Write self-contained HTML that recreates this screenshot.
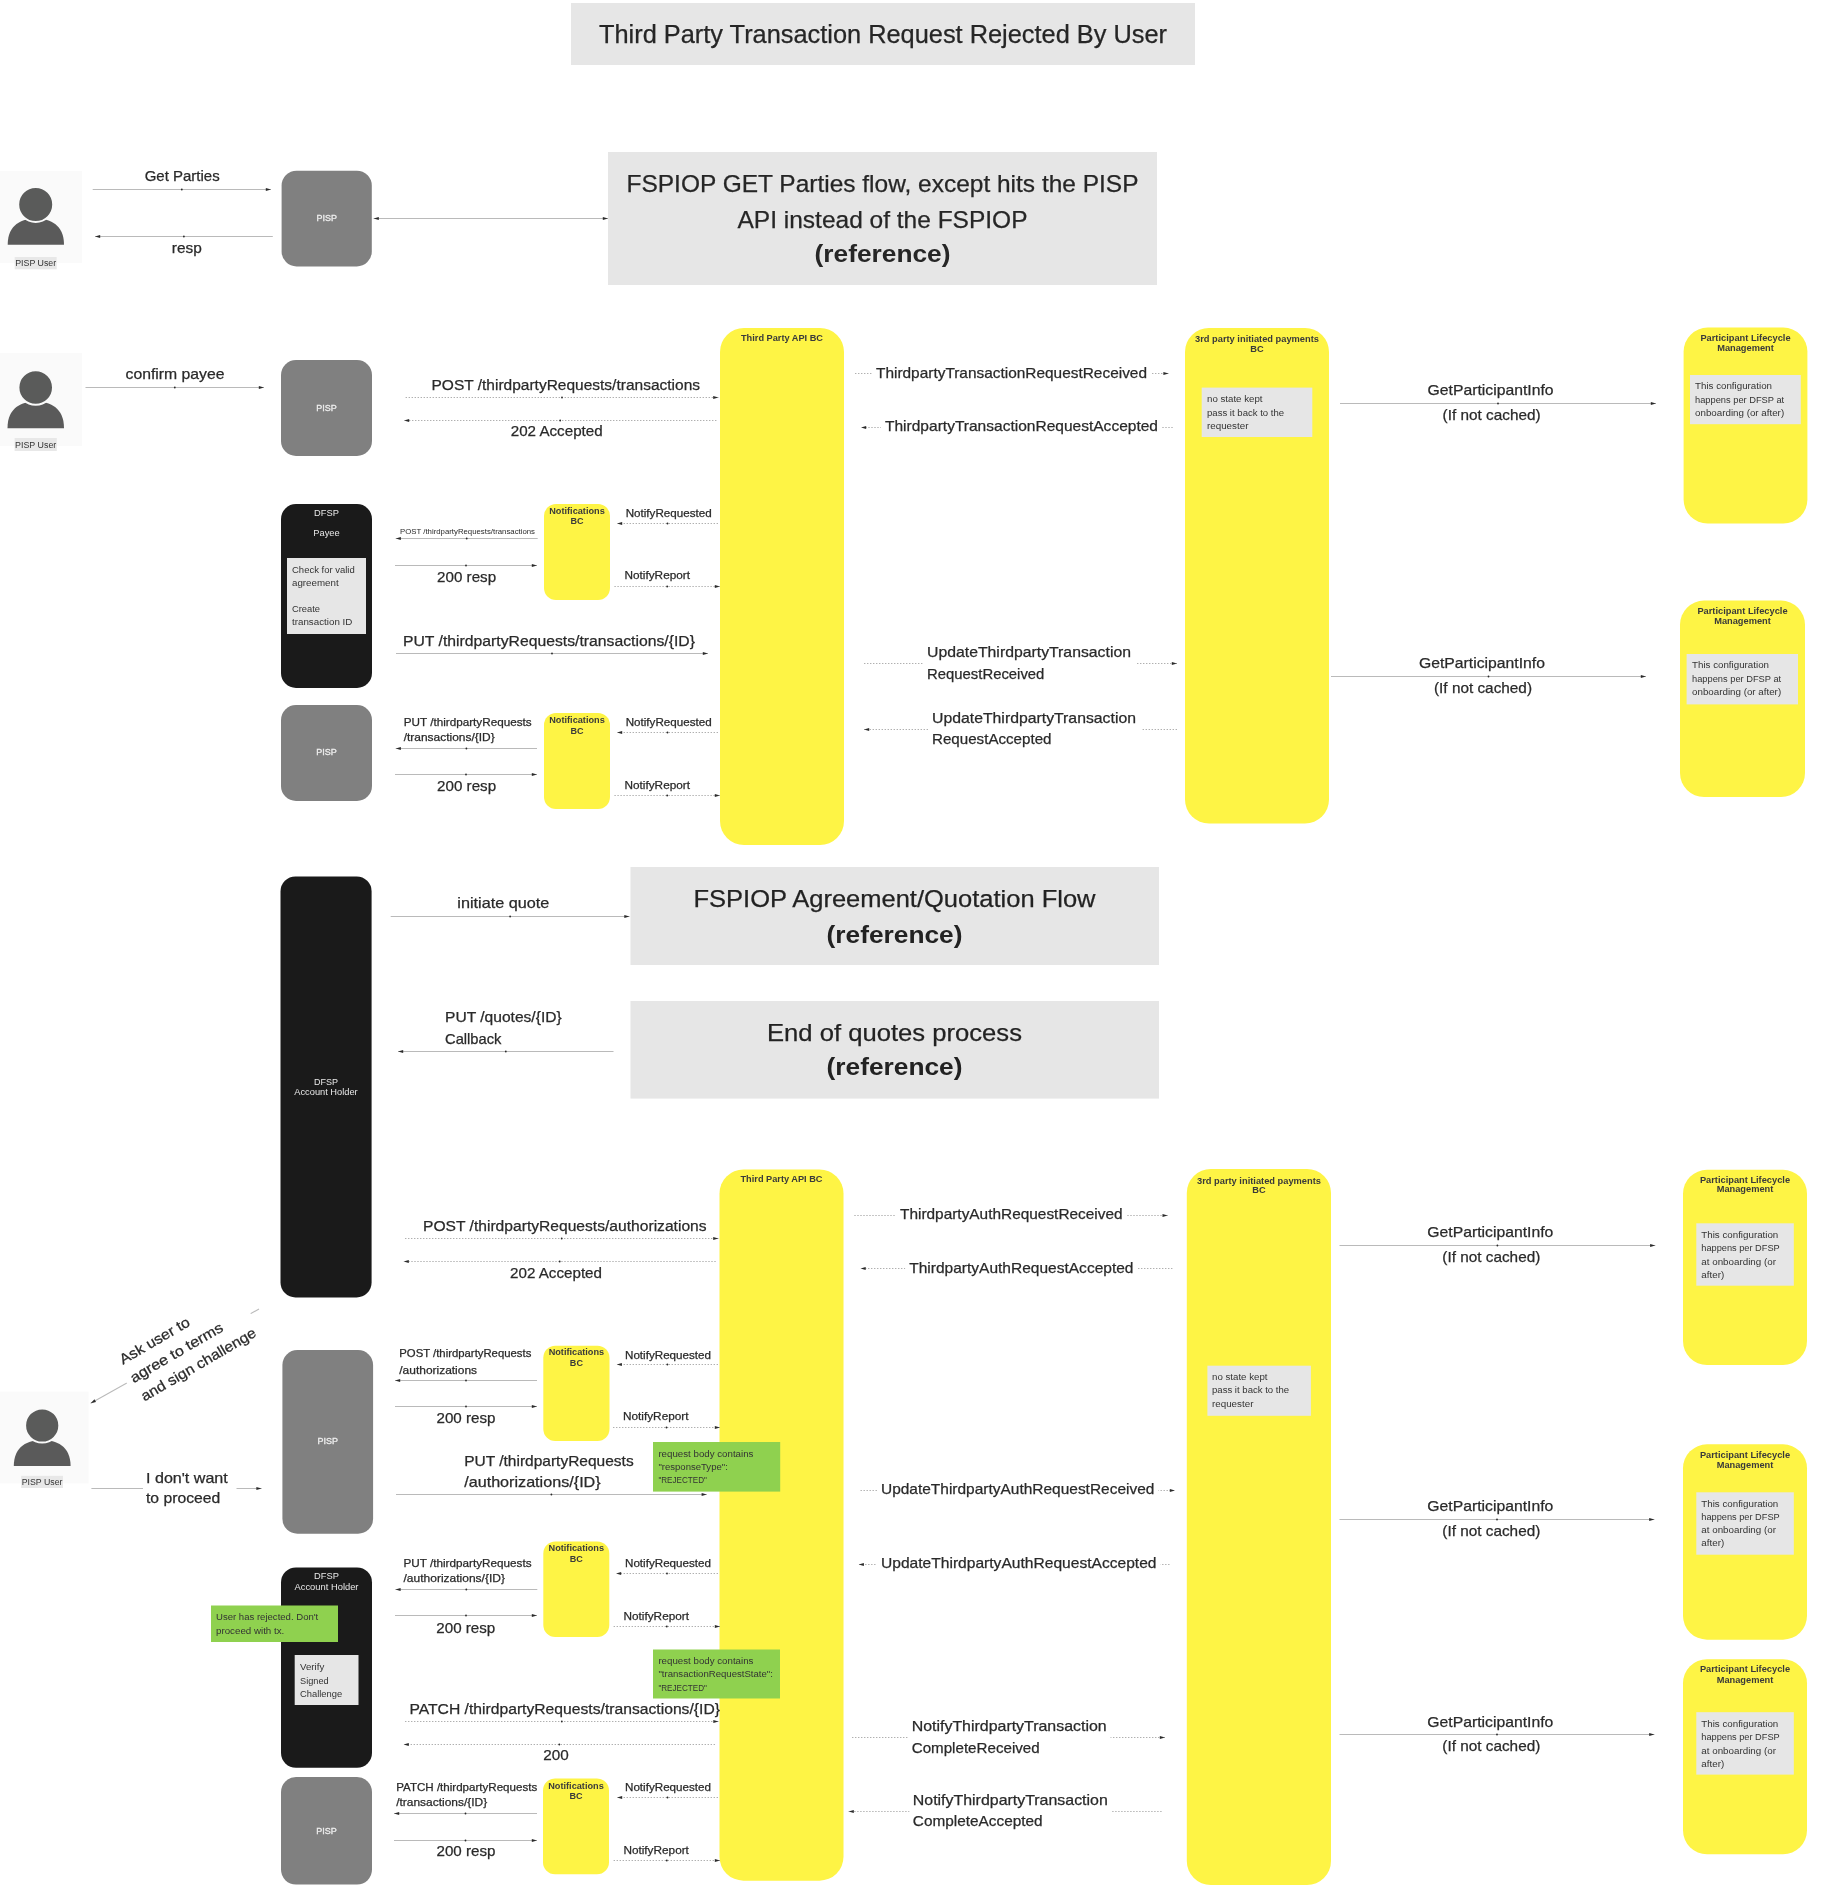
<!DOCTYPE html>
<html><head><meta charset="utf-8"><title>Third Party Transaction Request Rejected By User</title>
<style>
html,body{margin:0;padding:0;background:#ffffff;}
body{width:1830px;height:1890px;overflow:hidden;}
svg{display:block;font-family:"Liberation Sans",sans-serif;will-change:transform;}
</style></head><body>
<svg width="1830" height="1890" viewBox="0 0 1830 1890">
<rect x="0" y="0" width="1830" height="1890" fill="#ffffff"/>
<rect x="571" y="3" width="624" height="62" rx="0" fill="#e6e6e6"/>
<text x="883" y="43.29" font-size="25.0" text-anchor="middle" fill="#262626" stroke="#262626" stroke-width="0.25" textLength="568" lengthAdjust="spacingAndGlyphs">Third Party Transaction Request Rejected By User</text>
<rect x="0" y="171" width="82" height="92" rx="0" fill="#fafafa"/>
<path d="M7.7,244.8 C7.7,224.5 21.85,218.5 35.85,218.5 C49.85,218.5 64,224.5 64,244.8 Z" fill="#5a5a5a"/>
<circle cx="35.7" cy="204.5" r="17.5" fill="#5a5b5a" stroke="#fafafa" stroke-width="2"/>
<rect x="14.7" y="257" width="42.0" height="12.3" rx="0" fill="#e8e8e8"/>
<text x="35.7" y="266.18" font-size="8.5" text-anchor="middle" fill="#333333" textLength="41.0" lengthAdjust="spacingAndGlyphs">PISP User</text>
<text x="182.2" y="180.85" font-size="14.8" text-anchor="middle" fill="#2a2a2a" stroke="#2a2a2a" stroke-width="0.25" textLength="75" lengthAdjust="spacingAndGlyphs">Get Parties</text>
<line x1="92.7" y1="189.5" x2="271" y2="189.5" stroke="#bababa" stroke-width="1.1"/>
<polygon points="271.00,189.50 265.80,191.05 265.80,187.95" fill="#2b2b2b"/>
<circle cx="181.8" cy="189.5" r="0.9" fill="#2b2b2b"/>
<line x1="272.8" y1="236.5" x2="95" y2="236.5" stroke="#bababa" stroke-width="1.1"/>
<polygon points="95.00,236.50 100.20,234.95 100.20,238.05" fill="#2b2b2b"/>
<circle cx="183.9" cy="236.5" r="0.9" fill="#2b2b2b"/>
<text x="186.8" y="252.85" font-size="14.8" text-anchor="middle" fill="#2a2a2a" stroke="#2a2a2a" stroke-width="0.25" textLength="30" lengthAdjust="spacingAndGlyphs">resp</text>
<rect x="281.6" y="170.7" width="90.2" height="95.8" rx="15" fill="#808080"/>
<g stroke="#eeeeee" stroke-width="0.3">
<text x="326.70000000000005" y="221.45" font-size="9" text-anchor="middle" fill="#eeeeee" textLength="20.51" lengthAdjust="spacingAndGlyphs">PISP</text>
</g>
<line x1="373.6" y1="218.5" x2="608" y2="218.5" stroke="#bababa" stroke-width="1.1"/>
<polygon points="608.00,218.50 602.80,220.05 602.80,216.95" fill="#2b2b2b"/>
<polygon points="373.60,218.50 378.80,216.95 378.80,220.05" fill="#2b2b2b"/>
<rect x="608" y="152" width="549" height="133" rx="0" fill="#e6e6e6"/>
<text x="882.5" y="192.47" font-size="24.5" text-anchor="middle" fill="#262626" stroke="#262626" stroke-width="0.25" textLength="512" lengthAdjust="spacingAndGlyphs">FSPIOP GET Parties flow, except hits the PISP</text>
<text x="882.5" y="227.88" font-size="24.5" text-anchor="middle" fill="#262626" stroke="#262626" stroke-width="0.25" textLength="290" lengthAdjust="spacingAndGlyphs">API instead of the FSPIOP</text>
<text x="882.5" y="262.48" font-size="24.5" text-anchor="middle" fill="#262626" font-weight="bold" textLength="136" lengthAdjust="spacingAndGlyphs">(reference)</text>
<rect x="0" y="353" width="82" height="93" rx="0" fill="#fafafa"/>
<path d="M7.5,428.2 C7.5,407.5 21.75,401.5 35.75,401.5 C49.75,401.5 64,407.5 64,428.2 Z" fill="#5a5a5a"/>
<circle cx="35.7" cy="387.5" r="17.3" fill="#5a5b5a" stroke="#fafafa" stroke-width="2"/>
<rect x="14.6" y="438" width="42.2" height="13" rx="0" fill="#e8e8e8"/>
<text x="35.699999999999996" y="447.98" font-size="8.5" text-anchor="middle" fill="#333333" textLength="41.2" lengthAdjust="spacingAndGlyphs">PISP User</text>
<text x="175" y="378.85" font-size="14.8" text-anchor="middle" fill="#2a2a2a" stroke="#2a2a2a" stroke-width="0.25" textLength="99" lengthAdjust="spacingAndGlyphs">confirm payee</text>
<line x1="85.5" y1="387.5" x2="264" y2="387.5" stroke="#bababa" stroke-width="1.1"/>
<polygon points="264.00,387.50 258.80,389.05 258.80,385.95" fill="#2b2b2b"/>
<circle cx="174.8" cy="387.5" r="0.9" fill="#2b2b2b"/>
<rect x="281" y="360" width="91" height="96" rx="15" fill="#808080"/>
<g stroke="#eeeeee" stroke-width="0.3">
<text x="326.5" y="411.15" font-size="9" text-anchor="middle" fill="#eeeeee" textLength="20.51" lengthAdjust="spacingAndGlyphs">PISP</text>
</g>
<text x="431.5" y="389.6" font-size="15.2" text-anchor="start" fill="#2a2a2a" stroke="#2a2a2a" stroke-width="0.25" textLength="268.5" lengthAdjust="spacingAndGlyphs">POST /thirdpartyRequests/transactions</text>
<line x1="405.6" y1="397.5" x2="718.4" y2="397.5" stroke="#b0b0b0" stroke-width="1.1" stroke-dasharray="1.4,1.6"/>
<polygon points="718.40,397.50 713.20,399.05 713.20,395.95" fill="#2b2b2b"/>
<circle cx="562.0" cy="397.5" r="0.9" fill="#2b2b2b"/>
<line x1="716.4" y1="420.5" x2="404" y2="420.5" stroke="#b0b0b0" stroke-width="1.1" stroke-dasharray="1.4,1.6"/>
<polygon points="404.00,420.50 409.20,418.95 409.20,422.05" fill="#2b2b2b"/>
<circle cx="560.2" cy="420.5" r="0.9" fill="#2b2b2b"/>
<text x="556.7" y="436.43" font-size="15.0" text-anchor="middle" fill="#2a2a2a" stroke="#2a2a2a" stroke-width="0.25" textLength="92" lengthAdjust="spacingAndGlyphs">202 Accepted</text>
<rect x="720" y="328" width="124" height="517" rx="24" fill="#fef445"/>
<text x="782" y="340.98" font-size="8.5" text-anchor="middle" fill="#3a3a3a" font-weight="bold" textLength="82" lengthAdjust="spacingAndGlyphs">Third Party API BC</text>
<rect x="1185" y="328" width="144" height="495.5" rx="24" fill="#fef445"/>
<text x="1257" y="342.28" font-size="8.5" text-anchor="middle" fill="#3a3a3a" font-weight="bold" textLength="124" lengthAdjust="spacingAndGlyphs">3rd party initiated payments</text>
<text x="1257" y="352.18" font-size="8.5" text-anchor="middle" fill="#3a3a3a" font-weight="bold" textLength="13.38" lengthAdjust="spacingAndGlyphs">BC</text>
<rect x="1201.7" y="387.6" width="110.6" height="49.4" rx="0" fill="#e6e6e6"/>
<text x="1207" y="401.98" font-size="8.5" text-anchor="start" fill="#333333" textLength="55.48" lengthAdjust="spacingAndGlyphs">no state kept</text>
<text x="1207" y="415.98" font-size="8.5" text-anchor="start" fill="#333333" textLength="77.14" lengthAdjust="spacingAndGlyphs">pass it back to the</text>
<text x="1207" y="428.98" font-size="8.5" text-anchor="start" fill="#333333" textLength="41.42" lengthAdjust="spacingAndGlyphs">requester</text>
<line x1="855" y1="373.5" x2="1168.6" y2="373.5" stroke="#b0b0b0" stroke-width="1.1" stroke-dasharray="1.4,1.6"/>
<polygon points="1168.60,373.50 1163.40,375.05 1163.40,371.95" fill="#2b2b2b"/>
<rect x="872" y="363.0" width="279" height="18.6" rx="0" fill="#ffffff"/>
<text x="876" y="377.73" font-size="15.0" text-anchor="start" fill="#2a2a2a" stroke="#2a2a2a" stroke-width="0.25" textLength="271" lengthAdjust="spacingAndGlyphs">ThirdpartyTransactionRequestReceived</text>
<line x1="1172.7" y1="427.5" x2="861" y2="427.5" stroke="#b0b0b0" stroke-width="1.1" stroke-dasharray="1.4,1.6"/>
<polygon points="861.00,427.50 866.20,425.95 866.20,429.05" fill="#2b2b2b"/>
<rect x="881" y="416.7" width="281" height="18.6" rx="0" fill="#ffffff"/>
<text x="885" y="431.43" font-size="15.0" text-anchor="start" fill="#2a2a2a" stroke="#2a2a2a" stroke-width="0.25" textLength="273" lengthAdjust="spacingAndGlyphs">ThirdpartyTransactionRequestAccepted</text>
<line x1="1340" y1="403.5" x2="1656" y2="403.5" stroke="#bababa" stroke-width="1.1"/>
<polygon points="1656.00,403.50 1650.80,405.05 1650.80,401.95" fill="#2b2b2b"/>
<circle cx="1498.0" cy="403.5" r="0.9" fill="#2b2b2b"/>
<text x="1490.6" y="395.05" font-size="14.8" text-anchor="middle" fill="#2a2a2a" stroke="#2a2a2a" stroke-width="0.25" textLength="126" lengthAdjust="spacingAndGlyphs">GetParticipantInfo</text>
<text x="1491.6" y="420.25" font-size="14.8" text-anchor="middle" fill="#2a2a2a" stroke="#2a2a2a" stroke-width="0.25" textLength="98" lengthAdjust="spacingAndGlyphs">(If not cached)</text>
<rect x="1683.6" y="327.6" width="123.8" height="195.9" rx="24" fill="#fef445"/>
<text x="1745.5" y="341.18" font-size="8.5" text-anchor="middle" fill="#3a3a3a" font-weight="bold" textLength="90.11" lengthAdjust="spacingAndGlyphs">Participant Lifecycle</text>
<text x="1745.5" y="350.98" font-size="8.5" text-anchor="middle" fill="#3a3a3a" font-weight="bold" textLength="56.63" lengthAdjust="spacingAndGlyphs">Management</text>
<rect x="1690" y="375" width="110.8" height="49.2" rx="0" fill="#e6e6e6"/>
<text x="1695" y="388.98" font-size="8.5" text-anchor="start" fill="#333333" textLength="76.98" lengthAdjust="spacingAndGlyphs">This configuration</text>
<text x="1695" y="402.98" font-size="8.5" text-anchor="start" fill="#333333" textLength="89.16" lengthAdjust="spacingAndGlyphs">happens per DFSP at</text>
<text x="1695" y="415.98" font-size="8.5" text-anchor="start" fill="#333333" textLength="89.15" lengthAdjust="spacingAndGlyphs">onboarding (or after)</text>
<rect x="281" y="504" width="91" height="184" rx="15" fill="#1a1a1a"/>
<text x="326.5" y="515.96" font-size="9.3" text-anchor="middle" fill="#e8e8e8" textLength="24.8" lengthAdjust="spacingAndGlyphs">DFSP</text>
<text x="326.5" y="536.05" font-size="9.3" text-anchor="middle" fill="#e8e8e8" textLength="26.37" lengthAdjust="spacingAndGlyphs">Payee</text>
<rect x="287" y="558" width="79" height="76" rx="0" fill="#e6e6e6"/>
<text x="292" y="572.98" font-size="8.5" text-anchor="start" fill="#333333" textLength="62.75" lengthAdjust="spacingAndGlyphs">Check for valid</text>
<text x="292" y="585.98" font-size="8.5" text-anchor="start" fill="#333333" textLength="46.64" lengthAdjust="spacingAndGlyphs">agreement</text>
<text x="292" y="612.48" font-size="8.5" text-anchor="start" fill="#333333" textLength="28.06" lengthAdjust="spacingAndGlyphs">Create</text>
<text x="292" y="625.48" font-size="8.5" text-anchor="start" fill="#333333" textLength="60.41" lengthAdjust="spacingAndGlyphs">transaction ID</text>
<rect x="544" y="504" width="66" height="96" rx="12" fill="#fef445"/>
<text x="577" y="514.3" font-size="8.3" text-anchor="middle" fill="#3a3a3a" font-weight="bold" textLength="55.5" lengthAdjust="spacingAndGlyphs">Notifications</text>
<text x="577" y="524.4" font-size="8.3" text-anchor="middle" fill="#3a3a3a" font-weight="bold" textLength="13.07" lengthAdjust="spacingAndGlyphs">BC</text>
<text x="400" y="533.95" font-size="7" text-anchor="start" fill="#2a2a2a" textLength="135" lengthAdjust="spacingAndGlyphs">POST /thirdpartyRequests/transactions</text>
<line x1="537.7" y1="538.5" x2="395.7" y2="538.5" stroke="#bababa" stroke-width="1.1"/>
<polygon points="395.70,538.50 400.90,536.95 400.90,540.05" fill="#2b2b2b"/>
<circle cx="466.7" cy="538.5" r="0.9" fill="#2b2b2b"/>
<line x1="395" y1="565.5" x2="537" y2="565.5" stroke="#bababa" stroke-width="1.1"/>
<polygon points="537.00,565.50 531.80,567.05 531.80,563.95" fill="#2b2b2b"/>
<circle cx="466.0" cy="565.5" r="0.9" fill="#2b2b2b"/>
<text x="466.6" y="582.05" font-size="14.8" text-anchor="middle" fill="#2a2a2a" stroke="#2a2a2a" stroke-width="0.25" textLength="59" lengthAdjust="spacingAndGlyphs">200 resp</text>
<text x="625.7" y="516.85" font-size="11" text-anchor="start" fill="#2a2a2a" stroke="#2a2a2a" stroke-width="0.25" textLength="86" lengthAdjust="spacingAndGlyphs">NotifyRequested</text>
<line x1="718" y1="523.5" x2="617" y2="523.5" stroke="#b0b0b0" stroke-width="1.1" stroke-dasharray="1.4,1.6"/>
<polygon points="617.00,523.50 622.20,521.95 622.20,525.05" fill="#2b2b2b"/>
<circle cx="667.5" cy="523.5" r="0.9" fill="#2b2b2b"/>
<text x="624.5" y="578.85" font-size="11" text-anchor="start" fill="#2a2a2a" stroke="#2a2a2a" stroke-width="0.25" textLength="65.5" lengthAdjust="spacingAndGlyphs">NotifyReport</text>
<line x1="614.4" y1="586.5" x2="720" y2="586.5" stroke="#b0b0b0" stroke-width="1.1" stroke-dasharray="1.4,1.6"/>
<polygon points="720.00,586.50 714.80,588.05 714.80,584.95" fill="#2b2b2b"/>
<circle cx="667.2" cy="586.5" r="0.9" fill="#2b2b2b"/>
<text x="403" y="645.6" font-size="15.2" text-anchor="start" fill="#2a2a2a" stroke="#2a2a2a" stroke-width="0.25" textLength="292" lengthAdjust="spacingAndGlyphs">PUT /thirdpartyRequests/transactions/{ID}</text>
<line x1="396" y1="653.5" x2="708" y2="653.5" stroke="#bababa" stroke-width="1.1"/>
<polygon points="708.00,653.50 702.80,655.05 702.80,651.95" fill="#2b2b2b"/>
<circle cx="552.0" cy="653.5" r="0.9" fill="#2b2b2b"/>
<line x1="864" y1="663.5" x2="1177" y2="663.5" stroke="#b0b0b0" stroke-width="1.1" stroke-dasharray="1.4,1.6"/>
<polygon points="1177.00,663.50 1171.80,665.05 1171.80,661.95" fill="#2b2b2b"/>
<rect x="924" y="645" width="212" height="37" rx="0" fill="#ffffff"/>
<text x="927" y="657.25" font-size="14.8" text-anchor="start" fill="#2a2a2a" stroke="#2a2a2a" stroke-width="0.25" textLength="204" lengthAdjust="spacingAndGlyphs">UpdateThirdpartyTransaction</text>
<text x="927" y="678.85" font-size="14.8" text-anchor="start" fill="#2a2a2a" stroke="#2a2a2a" stroke-width="0.25" textLength="117.4" lengthAdjust="spacingAndGlyphs">RequestReceived</text>
<line x1="1177" y1="729.5" x2="864" y2="729.5" stroke="#b0b0b0" stroke-width="1.1" stroke-dasharray="1.4,1.6"/>
<polygon points="864.00,729.50 869.20,727.95 869.20,731.05" fill="#2b2b2b"/>
<rect x="929" y="710" width="212" height="37" rx="0" fill="#ffffff"/>
<text x="932" y="723.25" font-size="14.8" text-anchor="start" fill="#2a2a2a" stroke="#2a2a2a" stroke-width="0.25" textLength="204" lengthAdjust="spacingAndGlyphs">UpdateThirdpartyTransaction</text>
<text x="932" y="743.75" font-size="14.8" text-anchor="start" fill="#2a2a2a" stroke="#2a2a2a" stroke-width="0.25" textLength="119.5" lengthAdjust="spacingAndGlyphs">RequestAccepted</text>
<line x1="1331" y1="676.5" x2="1646" y2="676.5" stroke="#bababa" stroke-width="1.1"/>
<polygon points="1646.00,676.50 1640.80,678.05 1640.80,674.95" fill="#2b2b2b"/>
<circle cx="1488.5" cy="676.5" r="0.9" fill="#2b2b2b"/>
<text x="1482" y="668.05" font-size="14.8" text-anchor="middle" fill="#2a2a2a" stroke="#2a2a2a" stroke-width="0.25" textLength="126" lengthAdjust="spacingAndGlyphs">GetParticipantInfo</text>
<text x="1483" y="692.95" font-size="14.8" text-anchor="middle" fill="#2a2a2a" stroke="#2a2a2a" stroke-width="0.25" textLength="98" lengthAdjust="spacingAndGlyphs">(If not cached)</text>
<rect x="1680" y="600.6" width="125" height="196.4" rx="24" fill="#fef445"/>
<text x="1742.5" y="613.98" font-size="8.5" text-anchor="middle" fill="#3a3a3a" font-weight="bold" textLength="90.11" lengthAdjust="spacingAndGlyphs">Participant Lifecycle</text>
<text x="1742.5" y="623.98" font-size="8.5" text-anchor="middle" fill="#3a3a3a" font-weight="bold" textLength="56.63" lengthAdjust="spacingAndGlyphs">Management</text>
<rect x="1686.6" y="654" width="111.4" height="50.4" rx="0" fill="#e6e6e6"/>
<text x="1692" y="668.48" font-size="8.5" text-anchor="start" fill="#333333" textLength="76.98" lengthAdjust="spacingAndGlyphs">This configuration</text>
<text x="1692" y="681.98" font-size="8.5" text-anchor="start" fill="#333333" textLength="89.16" lengthAdjust="spacingAndGlyphs">happens per DFSP at</text>
<text x="1692" y="695.48" font-size="8.5" text-anchor="start" fill="#333333" textLength="89.15" lengthAdjust="spacingAndGlyphs">onboarding (or after)</text>
<rect x="281" y="705" width="91" height="96" rx="15" fill="#808080"/>
<g stroke="#eeeeee" stroke-width="0.3">
<text x="326.5" y="755.15" font-size="9" text-anchor="middle" fill="#eeeeee" textLength="20.51" lengthAdjust="spacingAndGlyphs">PISP</text>
</g>
<rect x="544" y="713" width="66" height="96" rx="12" fill="#fef445"/>
<text x="577" y="723.4" font-size="8.3" text-anchor="middle" fill="#3a3a3a" font-weight="bold" textLength="55.5" lengthAdjust="spacingAndGlyphs">Notifications</text>
<text x="577" y="733.9" font-size="8.3" text-anchor="middle" fill="#3a3a3a" font-weight="bold" textLength="13.07" lengthAdjust="spacingAndGlyphs">BC</text>
<text x="403.7" y="725.85" font-size="11" text-anchor="start" fill="#2a2a2a" stroke="#2a2a2a" stroke-width="0.25" textLength="128" lengthAdjust="spacingAndGlyphs">PUT /thirdpartyRequests</text>
<text x="403.7" y="740.85" font-size="11" text-anchor="start" fill="#2a2a2a" stroke="#2a2a2a" stroke-width="0.25" textLength="90.99" lengthAdjust="spacingAndGlyphs">/transactions/{ID}</text>
<line x1="537" y1="748.5" x2="395.7" y2="748.5" stroke="#bababa" stroke-width="1.1"/>
<polygon points="395.70,748.50 400.90,746.95 400.90,750.05" fill="#2b2b2b"/>
<circle cx="466.4" cy="748.5" r="0.9" fill="#2b2b2b"/>
<line x1="395" y1="774.5" x2="537" y2="774.5" stroke="#bababa" stroke-width="1.1"/>
<polygon points="537.00,774.50 531.80,776.05 531.80,772.95" fill="#2b2b2b"/>
<circle cx="466.0" cy="774.5" r="0.9" fill="#2b2b2b"/>
<text x="466.6" y="791.25" font-size="14.8" text-anchor="middle" fill="#2a2a2a" stroke="#2a2a2a" stroke-width="0.25" textLength="59" lengthAdjust="spacingAndGlyphs">200 resp</text>
<text x="625.7" y="725.85" font-size="11" text-anchor="start" fill="#2a2a2a" stroke="#2a2a2a" stroke-width="0.25" textLength="86" lengthAdjust="spacingAndGlyphs">NotifyRequested</text>
<line x1="718" y1="732.5" x2="617" y2="732.5" stroke="#b0b0b0" stroke-width="1.1" stroke-dasharray="1.4,1.6"/>
<polygon points="617.00,732.50 622.20,730.95 622.20,734.05" fill="#2b2b2b"/>
<circle cx="667.5" cy="732.5" r="0.9" fill="#2b2b2b"/>
<text x="624.5" y="789.25" font-size="11" text-anchor="start" fill="#2a2a2a" stroke="#2a2a2a" stroke-width="0.25" textLength="65.5" lengthAdjust="spacingAndGlyphs">NotifyReport</text>
<line x1="614.4" y1="795.5" x2="720" y2="795.5" stroke="#b0b0b0" stroke-width="1.1" stroke-dasharray="1.4,1.6"/>
<polygon points="720.00,795.50 714.80,797.05 714.80,793.95" fill="#2b2b2b"/>
<circle cx="667.2" cy="795.5" r="0.9" fill="#2b2b2b"/>
<rect x="280.5" y="876.4" width="91.1" height="421.1" rx="15" fill="#1a1a1a"/>
<text x="326" y="1084.65" font-size="9" text-anchor="middle" fill="#e8e8e8" textLength="24.0" lengthAdjust="spacingAndGlyphs">DFSP</text>
<text x="326" y="1094.75" font-size="9" text-anchor="middle" fill="#e8e8e8" textLength="63.4" lengthAdjust="spacingAndGlyphs">Account Holder</text>
<text x="503.3" y="908.08" font-size="14.5" text-anchor="middle" fill="#2a2a2a" stroke="#2a2a2a" stroke-width="0.25" textLength="92" lengthAdjust="spacingAndGlyphs">initiate quote</text>
<line x1="390.7" y1="916.5" x2="629.5" y2="916.5" stroke="#bababa" stroke-width="1.1"/>
<polygon points="629.50,916.50 624.30,918.05 624.30,914.95" fill="#2b2b2b"/>
<circle cx="510.1" cy="916.5" r="0.9" fill="#2b2b2b"/>
<rect x="630.5" y="867" width="528.5" height="98" rx="0" fill="#e6e6e6"/>
<text x="894.5" y="906.58" font-size="24.5" text-anchor="middle" fill="#222222" stroke="#222222" stroke-width="0.25" textLength="402" lengthAdjust="spacingAndGlyphs">FSPIOP Agreement/Quotation Flow</text>
<text x="894.5" y="943.28" font-size="24.5" text-anchor="middle" fill="#222222" font-weight="bold" textLength="136" lengthAdjust="spacingAndGlyphs">(reference)</text>
<rect x="630.5" y="1001" width="528.5" height="97.6" rx="0" fill="#e6e6e6"/>
<text x="894.5" y="1040.58" font-size="24.5" text-anchor="middle" fill="#222222" stroke="#222222" stroke-width="0.25" textLength="255" lengthAdjust="spacingAndGlyphs">End of quotes process</text>
<text x="894.5" y="1075.08" font-size="24.5" text-anchor="middle" fill="#222222" font-weight="bold" textLength="136" lengthAdjust="spacingAndGlyphs">(reference)</text>
<text x="445" y="1022.08" font-size="14.5" text-anchor="start" fill="#2a2a2a" stroke="#2a2a2a" stroke-width="0.25" textLength="116.7" lengthAdjust="spacingAndGlyphs">PUT /quotes/{ID}</text>
<text x="445" y="1043.88" font-size="14.5" text-anchor="start" fill="#2a2a2a" stroke="#2a2a2a" stroke-width="0.25" textLength="56.49" lengthAdjust="spacingAndGlyphs">Callback</text>
<line x1="613.5" y1="1051.5" x2="398" y2="1051.5" stroke="#bababa" stroke-width="1.1"/>
<polygon points="398.00,1051.50 403.20,1049.95 403.20,1053.05" fill="#2b2b2b"/>
<circle cx="505.8" cy="1051.5" r="0.9" fill="#2b2b2b"/>
<rect x="719.5" y="1169.5" width="124.0" height="711.2" rx="24" fill="#fef445"/>
<text x="781.5" y="1182.47" font-size="8.5" text-anchor="middle" fill="#3a3a3a" font-weight="bold" textLength="82" lengthAdjust="spacingAndGlyphs">Third Party API BC</text>
<text x="423" y="1231.0" font-size="15.2" text-anchor="start" fill="#2a2a2a" stroke="#2a2a2a" stroke-width="0.25" textLength="283.6" lengthAdjust="spacingAndGlyphs">POST /thirdpartyRequests/authorizations</text>
<line x1="405" y1="1238.5" x2="718.4" y2="1238.5" stroke="#b0b0b0" stroke-width="1.1" stroke-dasharray="1.4,1.6"/>
<polygon points="718.40,1238.50 713.20,1240.05 713.20,1236.95" fill="#2b2b2b"/>
<circle cx="561.7" cy="1238.5" r="0.9" fill="#2b2b2b"/>
<line x1="715.7" y1="1261.5" x2="403.6" y2="1261.5" stroke="#b0b0b0" stroke-width="1.1" stroke-dasharray="1.4,1.6"/>
<polygon points="403.60,1261.50 408.80,1259.95 408.80,1263.05" fill="#2b2b2b"/>
<circle cx="559.7" cy="1261.5" r="0.9" fill="#2b2b2b"/>
<text x="556" y="1277.72" font-size="15.0" text-anchor="middle" fill="#2a2a2a" stroke="#2a2a2a" stroke-width="0.25" textLength="92" lengthAdjust="spacingAndGlyphs">202 Accepted</text>
<rect x="1186.8" y="1169" width="144.2" height="716" rx="24" fill="#fef445"/>
<text x="1259" y="1183.67" font-size="8.5" text-anchor="middle" fill="#3a3a3a" font-weight="bold" textLength="124" lengthAdjust="spacingAndGlyphs">3rd party initiated payments</text>
<text x="1259" y="1193.38" font-size="8.5" text-anchor="middle" fill="#3a3a3a" font-weight="bold" textLength="13.38" lengthAdjust="spacingAndGlyphs">BC</text>
<line x1="854.3" y1="1215.5" x2="1167.7" y2="1215.5" stroke="#b0b0b0" stroke-width="1.1" stroke-dasharray="1.4,1.6"/>
<polygon points="1167.70,1215.50 1162.50,1217.05 1162.50,1213.95" fill="#2b2b2b"/>
<rect x="896" y="1204.2" width="230.6" height="18.6" rx="0" fill="#ffffff"/>
<text x="900" y="1218.92" font-size="15.0" text-anchor="start" fill="#2a2a2a" stroke="#2a2a2a" stroke-width="0.25" textLength="222.6" lengthAdjust="spacingAndGlyphs">ThirdpartyAuthRequestReceived</text>
<line x1="1172.4" y1="1268.5" x2="860.5" y2="1268.5" stroke="#b0b0b0" stroke-width="1.1" stroke-dasharray="1.4,1.6"/>
<polygon points="860.50,1268.50 865.70,1266.95 865.70,1270.05" fill="#2b2b2b"/>
<rect x="905.2" y="1258.3" width="232.3" height="18.6" rx="0" fill="#ffffff"/>
<text x="909.2" y="1273.02" font-size="15.0" text-anchor="start" fill="#2a2a2a" stroke="#2a2a2a" stroke-width="0.25" textLength="224.3" lengthAdjust="spacingAndGlyphs">ThirdpartyAuthRequestAccepted</text>
<rect x="1207.4" y="1365.7" width="103.5" height="50.1" rx="0" fill="#e6e6e6"/>
<text x="1212" y="1380.47" font-size="8.5" text-anchor="start" fill="#333333" textLength="55.48" lengthAdjust="spacingAndGlyphs">no state kept</text>
<text x="1212" y="1393.47" font-size="8.5" text-anchor="start" fill="#333333" textLength="77.14" lengthAdjust="spacingAndGlyphs">pass it back to the</text>
<text x="1212" y="1407.17" font-size="8.5" text-anchor="start" fill="#333333" textLength="41.42" lengthAdjust="spacingAndGlyphs">requester</text>
<line x1="1339.5" y1="1245.5" x2="1655.3" y2="1245.5" stroke="#bababa" stroke-width="1.1"/>
<polygon points="1655.30,1245.50 1650.10,1247.05 1650.10,1243.95" fill="#2b2b2b"/>
<circle cx="1497.4" cy="1245.5" r="0.9" fill="#2b2b2b"/>
<text x="1490.3" y="1236.85" font-size="14.8" text-anchor="middle" fill="#2a2a2a" stroke="#2a2a2a" stroke-width="0.25" textLength="126" lengthAdjust="spacingAndGlyphs">GetParticipantInfo</text>
<text x="1491.3" y="1261.95" font-size="14.8" text-anchor="middle" fill="#2a2a2a" stroke="#2a2a2a" stroke-width="0.25" textLength="98" lengthAdjust="spacingAndGlyphs">(If not cached)</text>
<rect x="1683" y="1169.8" width="124" height="195.2" rx="24" fill="#fef445"/>
<text x="1745" y="1182.77" font-size="8.5" text-anchor="middle" fill="#3a3a3a" font-weight="bold" textLength="90.11" lengthAdjust="spacingAndGlyphs">Participant Lifecycle</text>
<text x="1745" y="1192.47" font-size="8.5" text-anchor="middle" fill="#3a3a3a" font-weight="bold" textLength="56.63" lengthAdjust="spacingAndGlyphs">Management</text>
<rect x="1696.3" y="1223.3" width="97.5" height="62.4" rx="0" fill="#e6e6e6"/>
<text x="1701.3" y="1237.67" font-size="8.5" text-anchor="start" fill="#333333" textLength="76.98" lengthAdjust="spacingAndGlyphs">This configuration</text>
<text x="1701.3" y="1250.57" font-size="8.5" text-anchor="start" fill="#333333" textLength="78.41" lengthAdjust="spacingAndGlyphs">happens per DFSP</text>
<text x="1701.3" y="1264.57" font-size="8.5" text-anchor="start" fill="#333333" textLength="74.68" lengthAdjust="spacingAndGlyphs">at onboarding (or</text>
<text x="1701.3" y="1277.57" font-size="8.5" text-anchor="start" fill="#333333" textLength="22.86" lengthAdjust="spacingAndGlyphs">after)</text>
<rect x="1683" y="1444.3" width="124" height="195.4" rx="24" fill="#fef445"/>
<text x="1745" y="1457.57" font-size="8.5" text-anchor="middle" fill="#3a3a3a" font-weight="bold" textLength="90.11" lengthAdjust="spacingAndGlyphs">Participant Lifecycle</text>
<text x="1745" y="1468.17" font-size="8.5" text-anchor="middle" fill="#3a3a3a" font-weight="bold" textLength="56.63" lengthAdjust="spacingAndGlyphs">Management</text>
<rect x="1696.3" y="1492.3" width="97.5" height="62.4" rx="0" fill="#e6e6e6"/>
<text x="1701.3" y="1507.17" font-size="8.5" text-anchor="start" fill="#333333" textLength="76.98" lengthAdjust="spacingAndGlyphs">This configuration</text>
<text x="1701.3" y="1519.97" font-size="8.5" text-anchor="start" fill="#333333" textLength="78.41" lengthAdjust="spacingAndGlyphs">happens per DFSP</text>
<text x="1701.3" y="1533.17" font-size="8.5" text-anchor="start" fill="#333333" textLength="74.68" lengthAdjust="spacingAndGlyphs">at onboarding (or</text>
<text x="1701.3" y="1545.97" font-size="8.5" text-anchor="start" fill="#333333" textLength="22.86" lengthAdjust="spacingAndGlyphs">after)</text>
<line x1="1339.5" y1="1519.5" x2="1654.4" y2="1519.5" stroke="#bababa" stroke-width="1.1"/>
<polygon points="1654.40,1519.50 1649.20,1521.05 1649.20,1517.95" fill="#2b2b2b"/>
<circle cx="1497.0" cy="1519.5" r="0.9" fill="#2b2b2b"/>
<text x="1490.3" y="1511.15" font-size="14.8" text-anchor="middle" fill="#2a2a2a" stroke="#2a2a2a" stroke-width="0.25" textLength="126" lengthAdjust="spacingAndGlyphs">GetParticipantInfo</text>
<text x="1491.3" y="1536.25" font-size="14.8" text-anchor="middle" fill="#2a2a2a" stroke="#2a2a2a" stroke-width="0.25" textLength="98" lengthAdjust="spacingAndGlyphs">(If not cached)</text>
<rect x="1683" y="1659.2" width="124" height="195.1" rx="24" fill="#fef445"/>
<text x="1745" y="1671.97" font-size="8.5" text-anchor="middle" fill="#3a3a3a" font-weight="bold" textLength="90.11" lengthAdjust="spacingAndGlyphs">Participant Lifecycle</text>
<text x="1745" y="1682.77" font-size="8.5" text-anchor="middle" fill="#3a3a3a" font-weight="bold" textLength="56.63" lengthAdjust="spacingAndGlyphs">Management</text>
<rect x="1696.3" y="1712.2" width="97.5" height="62.4" rx="0" fill="#e6e6e6"/>
<text x="1701.3" y="1726.57" font-size="8.5" text-anchor="start" fill="#333333" textLength="76.98" lengthAdjust="spacingAndGlyphs">This configuration</text>
<text x="1701.3" y="1739.67" font-size="8.5" text-anchor="start" fill="#333333" textLength="78.41" lengthAdjust="spacingAndGlyphs">happens per DFSP</text>
<text x="1701.3" y="1753.57" font-size="8.5" text-anchor="start" fill="#333333" textLength="74.68" lengthAdjust="spacingAndGlyphs">at onboarding (or</text>
<text x="1701.3" y="1766.67" font-size="8.5" text-anchor="start" fill="#333333" textLength="22.86" lengthAdjust="spacingAndGlyphs">after)</text>
<line x1="1339.5" y1="1734.5" x2="1654.4" y2="1734.5" stroke="#bababa" stroke-width="1.1"/>
<polygon points="1654.40,1734.50 1649.20,1736.05 1649.20,1732.95" fill="#2b2b2b"/>
<circle cx="1497.0" cy="1734.5" r="0.9" fill="#2b2b2b"/>
<text x="1490.3" y="1726.85" font-size="14.8" text-anchor="middle" fill="#2a2a2a" stroke="#2a2a2a" stroke-width="0.25" textLength="126" lengthAdjust="spacingAndGlyphs">GetParticipantInfo</text>
<text x="1491.3" y="1750.85" font-size="14.8" text-anchor="middle" fill="#2a2a2a" stroke="#2a2a2a" stroke-width="0.25" textLength="98" lengthAdjust="spacingAndGlyphs">(If not cached)</text>
<line x1="259" y1="1309" x2="90.7" y2="1403.2" stroke="#bababa" stroke-width="1.1"/>
<polygon points="90.70,1403.20 94.48,1399.31 95.99,1402.01" fill="#2b2b2b"/>
<g transform="translate(123,1364.8) rotate(-30.3)">
<rect x="-6" y="-16" width="142" height="64" fill="#ffffff"/>
<text x="0" y="-0.03" font-size="14.5" text-anchor="start" fill="#2a2a2a" stroke="#2a2a2a" stroke-width="0.25" textLength="78.9" lengthAdjust="spacingAndGlyphs">Ask user to</text>
<text x="0" y="21.27" font-size="14.5" text-anchor="start" fill="#2a2a2a" stroke="#2a2a2a" stroke-width="0.25" textLength="104.8" lengthAdjust="spacingAndGlyphs">agree to terms</text>
<text x="0" y="42.58" font-size="14.5" text-anchor="start" fill="#2a2a2a" stroke="#2a2a2a" stroke-width="0.25" textLength="130.8" lengthAdjust="spacingAndGlyphs">and sign challenge</text>
</g>
<rect x="282.4" y="1350" width="90.7" height="183.7" rx="15" fill="#808080"/>
<g stroke="#eeeeee" stroke-width="0.3">
<text x="327.75" y="1444.15" font-size="9" text-anchor="middle" fill="#eeeeee" textLength="20.51" lengthAdjust="spacingAndGlyphs">PISP</text>
</g>
<rect x="0" y="1391.6" width="88.5" height="91.8" rx="0" fill="#fafafa"/>
<path d="M13.8,1466 C13.8,1446 28.199999999999996,1440 42.199999999999996,1440 C56.199999999999996,1440 70.6,1446 70.6,1466 Z" fill="#5a5a5a"/>
<circle cx="42.2" cy="1425.5" r="17.099999999999998" fill="#5a5b5a" stroke="#fafafa" stroke-width="2"/>
<rect x="21.2" y="1475.8" width="41.8" height="12.2" rx="0" fill="#e8e8e8"/>
<text x="42.1" y="1484.97" font-size="8.5" text-anchor="middle" fill="#333333" textLength="40.8" lengthAdjust="spacingAndGlyphs">PISP User</text>
<line x1="91.4" y1="1488.5" x2="261.6" y2="1488.5" stroke="#bababa" stroke-width="1.1"/>
<polygon points="261.60,1488.50 256.40,1490.05 256.40,1486.95" fill="#2b2b2b"/>
<rect x="143" y="1466" width="93.5" height="44" rx="0" fill="#ffffff"/>
<text x="146" y="1482.58" font-size="14.5" text-anchor="start" fill="#2a2a2a" stroke="#2a2a2a" stroke-width="0.25" textLength="81.8" lengthAdjust="spacingAndGlyphs">I don't want</text>
<text x="146" y="1503.38" font-size="14.5" text-anchor="start" fill="#2a2a2a" stroke="#2a2a2a" stroke-width="0.25" textLength="74.3" lengthAdjust="spacingAndGlyphs">to proceed</text>
<rect x="543.3" y="1345.7" width="66.2" height="95.3" rx="12" fill="#fef445"/>
<text x="576.4" y="1355.2" font-size="8.3" text-anchor="middle" fill="#3a3a3a" font-weight="bold" textLength="55.5" lengthAdjust="spacingAndGlyphs">Notifications</text>
<text x="576.4" y="1365.9" font-size="8.3" text-anchor="middle" fill="#3a3a3a" font-weight="bold" textLength="13.07" lengthAdjust="spacingAndGlyphs">BC</text>
<text x="399.3" y="1357.45" font-size="11" text-anchor="start" fill="#2a2a2a" stroke="#2a2a2a" stroke-width="0.25" textLength="132" lengthAdjust="spacingAndGlyphs">POST /thirdpartyRequests</text>
<text x="399.3" y="1373.55" font-size="11" text-anchor="start" fill="#2a2a2a" stroke="#2a2a2a" stroke-width="0.25" textLength="77.75" lengthAdjust="spacingAndGlyphs">/authorizations</text>
<line x1="537" y1="1380.5" x2="395" y2="1380.5" stroke="#bababa" stroke-width="1.1"/>
<polygon points="395.00,1380.50 400.20,1378.95 400.20,1382.05" fill="#2b2b2b"/>
<circle cx="466.0" cy="1380.5" r="0.9" fill="#2b2b2b"/>
<line x1="395" y1="1406.5" x2="537" y2="1406.5" stroke="#bababa" stroke-width="1.1"/>
<polygon points="537.00,1406.50 531.80,1408.05 531.80,1404.95" fill="#2b2b2b"/>
<circle cx="466.0" cy="1406.5" r="0.9" fill="#2b2b2b"/>
<text x="466" y="1423.25" font-size="14.8" text-anchor="middle" fill="#2a2a2a" stroke="#2a2a2a" stroke-width="0.25" textLength="59" lengthAdjust="spacingAndGlyphs">200 resp</text>
<text x="625" y="1358.85" font-size="11" text-anchor="start" fill="#2a2a2a" stroke="#2a2a2a" stroke-width="0.25" textLength="86" lengthAdjust="spacingAndGlyphs">NotifyRequested</text>
<line x1="718" y1="1364.5" x2="616.7" y2="1364.5" stroke="#b0b0b0" stroke-width="1.1" stroke-dasharray="1.4,1.6"/>
<polygon points="616.70,1364.50 621.90,1362.95 621.90,1366.05" fill="#2b2b2b"/>
<circle cx="667.4" cy="1364.5" r="0.9" fill="#2b2b2b"/>
<text x="623" y="1420.45" font-size="11" text-anchor="start" fill="#2a2a2a" stroke="#2a2a2a" stroke-width="0.25" textLength="65.5" lengthAdjust="spacingAndGlyphs">NotifyReport</text>
<line x1="613" y1="1427.5" x2="720" y2="1427.5" stroke="#b0b0b0" stroke-width="1.1" stroke-dasharray="1.4,1.6"/>
<polygon points="720.00,1427.50 714.80,1429.05 714.80,1425.95" fill="#2b2b2b"/>
<circle cx="666.5" cy="1427.5" r="0.9" fill="#2b2b2b"/>
<text x="464.2" y="1465.55" font-size="14.8" text-anchor="start" fill="#2a2a2a" stroke="#2a2a2a" stroke-width="0.25" textLength="169.5" lengthAdjust="spacingAndGlyphs">PUT /thirdpartyRequests</text>
<text x="464.2" y="1486.65" font-size="14.8" text-anchor="start" fill="#2a2a2a" stroke="#2a2a2a" stroke-width="0.25" textLength="136.49" lengthAdjust="spacingAndGlyphs">/authorizations/{ID}</text>
<line x1="396" y1="1494.5" x2="706.8" y2="1494.5" stroke="#bababa" stroke-width="1.1"/>
<polygon points="706.80,1494.50 701.60,1496.05 701.60,1492.95" fill="#2b2b2b"/>
<circle cx="551.4" cy="1494.5" r="0.9" fill="#2b2b2b"/>
<rect x="653" y="1442" width="127.2" height="49.6" rx="0" fill="#8fd14f"/>
<text x="658.4" y="1456.97" font-size="8.5" text-anchor="start" fill="#333333" textLength="95.02" lengthAdjust="spacingAndGlyphs">request body contains</text>
<text x="658.4" y="1469.97" font-size="8.5" text-anchor="start" fill="#333333" textLength="69.43" lengthAdjust="spacingAndGlyphs">&quot;responseType&quot;:</text>
<text x="658.4" y="1482.97" font-size="8.5" text-anchor="start" fill="#333333" textLength="48.5" lengthAdjust="spacingAndGlyphs">&quot;REJECTED&quot;</text>
<line x1="860.5" y1="1490.5" x2="1175" y2="1490.5" stroke="#b0b0b0" stroke-width="1.1" stroke-dasharray="1.4,1.6"/>
<polygon points="1175.00,1490.50 1169.80,1492.05 1169.80,1488.95" fill="#2b2b2b"/>
<rect x="877" y="1479.7" width="281.4" height="18.6" rx="0" fill="#ffffff"/>
<text x="881" y="1494.42" font-size="15.0" text-anchor="start" fill="#2a2a2a" stroke="#2a2a2a" stroke-width="0.25" textLength="273.4" lengthAdjust="spacingAndGlyphs">UpdateThirdpartyAuthRequestReceived</text>
<line x1="1169.5" y1="1564.5" x2="858.7" y2="1564.5" stroke="#b0b0b0" stroke-width="1.1" stroke-dasharray="1.4,1.6"/>
<polygon points="858.70,1564.50 863.90,1562.95 863.90,1566.05" fill="#2b2b2b"/>
<rect x="877" y="1553.7" width="283.5" height="18.6" rx="0" fill="#ffffff"/>
<text x="881" y="1568.42" font-size="15.0" text-anchor="start" fill="#2a2a2a" stroke="#2a2a2a" stroke-width="0.25" textLength="275.5" lengthAdjust="spacingAndGlyphs">UpdateThirdpartyAuthRequestAccepted</text>
<rect x="281" y="1567.4" width="91" height="200.4" rx="15" fill="#1a1a1a"/>
<text x="326.5" y="1579.26" font-size="9.3" text-anchor="middle" fill="#e8e8e8" textLength="24.8" lengthAdjust="spacingAndGlyphs">DFSP</text>
<text x="326.5" y="1590.42" font-size="9.2" text-anchor="middle" fill="#e8e8e8" textLength="64" lengthAdjust="spacingAndGlyphs">Account Holder</text>
<rect x="211" y="1605.5" width="127" height="36.5" rx="0" fill="#8fd14f"/>
<text x="216" y="1619.67" font-size="8.5" text-anchor="start" fill="#333333" textLength="102.29" lengthAdjust="spacingAndGlyphs">User has rejected. Don't</text>
<text x="216" y="1633.88" font-size="8.5" text-anchor="start" fill="#333333" textLength="68.26" lengthAdjust="spacingAndGlyphs">proceed with tx.</text>
<rect x="294.7" y="1655" width="63.8" height="50" rx="0" fill="#e6e6e6"/>
<text x="300" y="1669.97" font-size="8.5" text-anchor="start" fill="#333333" textLength="24.26" lengthAdjust="spacingAndGlyphs">Verify</text>
<text x="300" y="1683.67" font-size="8.5" text-anchor="start" fill="#333333" textLength="28.61" lengthAdjust="spacingAndGlyphs">Signed</text>
<text x="300" y="1696.67" font-size="8.5" text-anchor="start" fill="#333333" textLength="42.18" lengthAdjust="spacingAndGlyphs">Challenge</text>
<rect x="543.3" y="1541.5" width="66.0" height="95.5" rx="12" fill="#fef445"/>
<text x="576.3" y="1551.2" font-size="8.3" text-anchor="middle" fill="#3a3a3a" font-weight="bold" textLength="55.5" lengthAdjust="spacingAndGlyphs">Notifications</text>
<text x="576.3" y="1561.81" font-size="8.3" text-anchor="middle" fill="#3a3a3a" font-weight="bold" textLength="13.07" lengthAdjust="spacingAndGlyphs">BC</text>
<text x="403.5" y="1567.15" font-size="11" text-anchor="start" fill="#2a2a2a" stroke="#2a2a2a" stroke-width="0.25" textLength="128" lengthAdjust="spacingAndGlyphs">PUT /thirdpartyRequests</text>
<text x="403.5" y="1581.85" font-size="11" text-anchor="start" fill="#2a2a2a" stroke="#2a2a2a" stroke-width="0.25" textLength="101.45" lengthAdjust="spacingAndGlyphs">/authorizations/{ID}</text>
<line x1="537.3" y1="1589.5" x2="395.4" y2="1589.5" stroke="#bababa" stroke-width="1.1"/>
<polygon points="395.40,1589.50 400.60,1587.95 400.60,1591.05" fill="#2b2b2b"/>
<circle cx="466.3" cy="1589.5" r="0.9" fill="#2b2b2b"/>
<line x1="395" y1="1615.5" x2="537" y2="1615.5" stroke="#bababa" stroke-width="1.1"/>
<polygon points="537.00,1615.50 531.80,1617.05 531.80,1613.95" fill="#2b2b2b"/>
<circle cx="466.0" cy="1615.5" r="0.9" fill="#2b2b2b"/>
<text x="465.8" y="1632.55" font-size="14.8" text-anchor="middle" fill="#2a2a2a" stroke="#2a2a2a" stroke-width="0.25" textLength="59" lengthAdjust="spacingAndGlyphs">200 resp</text>
<text x="625" y="1567.15" font-size="11" text-anchor="start" fill="#2a2a2a" stroke="#2a2a2a" stroke-width="0.25" textLength="86" lengthAdjust="spacingAndGlyphs">NotifyRequested</text>
<line x1="718" y1="1573.5" x2="616" y2="1573.5" stroke="#b0b0b0" stroke-width="1.1" stroke-dasharray="1.4,1.6"/>
<polygon points="616.00,1573.50 621.20,1571.95 621.20,1575.05" fill="#2b2b2b"/>
<circle cx="667.0" cy="1573.5" r="0.9" fill="#2b2b2b"/>
<text x="623.5" y="1619.85" font-size="11" text-anchor="start" fill="#2a2a2a" stroke="#2a2a2a" stroke-width="0.25" textLength="65.5" lengthAdjust="spacingAndGlyphs">NotifyReport</text>
<line x1="613.6" y1="1626.5" x2="720" y2="1626.5" stroke="#b0b0b0" stroke-width="1.1" stroke-dasharray="1.4,1.6"/>
<polygon points="720.00,1626.50 714.80,1628.05 714.80,1624.95" fill="#2b2b2b"/>
<circle cx="666.8" cy="1626.5" r="0.9" fill="#2b2b2b"/>
<rect x="653" y="1649.5" width="127" height="49.0" rx="0" fill="#8fd14f"/>
<text x="658.4" y="1663.77" font-size="8.5" text-anchor="start" fill="#333333" textLength="95.02" lengthAdjust="spacingAndGlyphs">request body contains</text>
<text x="658.4" y="1676.97" font-size="8.5" text-anchor="start" fill="#333333" textLength="114.56" lengthAdjust="spacingAndGlyphs">&quot;transactionRequestState&quot;:</text>
<text x="658.4" y="1690.57" font-size="8.5" text-anchor="start" fill="#333333" textLength="48.5" lengthAdjust="spacingAndGlyphs">&quot;REJECTED&quot;</text>
<text x="409.4" y="1713.6" font-size="15.2" text-anchor="start" fill="#2a2a2a" stroke="#2a2a2a" stroke-width="0.25" textLength="310.6" lengthAdjust="spacingAndGlyphs">PATCH /thirdpartyRequests/transactions/{ID}</text>
<line x1="405" y1="1721.5" x2="718.5" y2="1721.5" stroke="#b0b0b0" stroke-width="1.1" stroke-dasharray="1.4,1.6"/>
<polygon points="718.50,1721.50 713.30,1723.05 713.30,1719.95" fill="#2b2b2b"/>
<circle cx="561.8" cy="1721.5" r="0.9" fill="#2b2b2b"/>
<line x1="715" y1="1744.5" x2="403.6" y2="1744.5" stroke="#b0b0b0" stroke-width="1.1" stroke-dasharray="1.4,1.6"/>
<polygon points="403.60,1744.50 408.80,1742.95 408.80,1746.05" fill="#2b2b2b"/>
<circle cx="559.3" cy="1744.5" r="0.9" fill="#2b2b2b"/>
<text x="556" y="1760.22" font-size="15.0" text-anchor="middle" fill="#2a2a2a" stroke="#2a2a2a" stroke-width="0.25" textLength="25.47" lengthAdjust="spacingAndGlyphs">200</text>
<line x1="852" y1="1737.5" x2="1165" y2="1737.5" stroke="#b0b0b0" stroke-width="1.1" stroke-dasharray="1.4,1.6"/>
<polygon points="1165.00,1737.50 1159.80,1739.05 1159.80,1735.95" fill="#2b2b2b"/>
<rect x="908.5" y="1715" width="202.0" height="43" rx="0" fill="#ffffff"/>
<text x="911.7" y="1731.25" font-size="14.8" text-anchor="start" fill="#2a2a2a" stroke="#2a2a2a" stroke-width="0.25" textLength="195" lengthAdjust="spacingAndGlyphs">NotifyThirdpartyTransaction</text>
<text x="911.7" y="1752.85" font-size="14.8" text-anchor="start" fill="#2a2a2a" stroke="#2a2a2a" stroke-width="0.25" textLength="128" lengthAdjust="spacingAndGlyphs">CompleteReceived</text>
<line x1="1161.6" y1="1811.5" x2="848.6" y2="1811.5" stroke="#b0b0b0" stroke-width="1.1" stroke-dasharray="1.4,1.6"/>
<polygon points="848.60,1811.50 853.80,1809.95 853.80,1813.05" fill="#2b2b2b"/>
<rect x="909.5" y="1789" width="202.0" height="42" rx="0" fill="#ffffff"/>
<text x="912.8" y="1804.75" font-size="14.8" text-anchor="start" fill="#2a2a2a" stroke="#2a2a2a" stroke-width="0.25" textLength="195" lengthAdjust="spacingAndGlyphs">NotifyThirdpartyTransaction</text>
<text x="912.8" y="1826.05" font-size="14.8" text-anchor="start" fill="#2a2a2a" stroke="#2a2a2a" stroke-width="0.25" textLength="129.8" lengthAdjust="spacingAndGlyphs">CompleteAccepted</text>
<rect x="281" y="1777" width="91" height="107.6" rx="15" fill="#808080"/>
<g stroke="#eeeeee" stroke-width="0.3">
<text x="326.5" y="1833.75" font-size="9" text-anchor="middle" fill="#eeeeee" textLength="20.51" lengthAdjust="spacingAndGlyphs">PISP</text>
</g>
<rect x="543" y="1778.4" width="66" height="95.9" rx="12" fill="#fef445"/>
<text x="576" y="1788.9" font-size="8.3" text-anchor="middle" fill="#3a3a3a" font-weight="bold" textLength="55.5" lengthAdjust="spacingAndGlyphs">Notifications</text>
<text x="576" y="1798.9" font-size="8.3" text-anchor="middle" fill="#3a3a3a" font-weight="bold" textLength="13.07" lengthAdjust="spacingAndGlyphs">BC</text>
<text x="396.2" y="1790.85" font-size="11" text-anchor="start" fill="#2a2a2a" stroke="#2a2a2a" stroke-width="0.25" textLength="141" lengthAdjust="spacingAndGlyphs">PATCH /thirdpartyRequests</text>
<text x="396.2" y="1806.45" font-size="11" text-anchor="start" fill="#2a2a2a" stroke="#2a2a2a" stroke-width="0.25" textLength="90.99" lengthAdjust="spacingAndGlyphs">/transactions/{ID}</text>
<line x1="537" y1="1813.5" x2="394" y2="1813.5" stroke="#bababa" stroke-width="1.1"/>
<polygon points="394.00,1813.50 399.20,1811.95 399.20,1815.05" fill="#2b2b2b"/>
<circle cx="465.5" cy="1813.5" r="0.9" fill="#2b2b2b"/>
<line x1="394" y1="1840.5" x2="537" y2="1840.5" stroke="#bababa" stroke-width="1.1"/>
<polygon points="537.00,1840.50 531.80,1842.05 531.80,1838.95" fill="#2b2b2b"/>
<circle cx="465.5" cy="1840.5" r="0.9" fill="#2b2b2b"/>
<text x="466" y="1855.95" font-size="14.8" text-anchor="middle" fill="#2a2a2a" stroke="#2a2a2a" stroke-width="0.25" textLength="59" lengthAdjust="spacingAndGlyphs">200 resp</text>
<text x="625" y="1790.85" font-size="11" text-anchor="start" fill="#2a2a2a" stroke="#2a2a2a" stroke-width="0.25" textLength="86" lengthAdjust="spacingAndGlyphs">NotifyRequested</text>
<line x1="718" y1="1797.5" x2="617" y2="1797.5" stroke="#b0b0b0" stroke-width="1.1" stroke-dasharray="1.4,1.6"/>
<polygon points="617.00,1797.50 622.20,1795.95 622.20,1799.05" fill="#2b2b2b"/>
<circle cx="667.5" cy="1797.5" r="0.9" fill="#2b2b2b"/>
<text x="623.4" y="1853.65" font-size="11" text-anchor="start" fill="#2a2a2a" stroke="#2a2a2a" stroke-width="0.25" textLength="65.5" lengthAdjust="spacingAndGlyphs">NotifyReport</text>
<line x1="613.6" y1="1860.5" x2="720" y2="1860.5" stroke="#b0b0b0" stroke-width="1.1" stroke-dasharray="1.4,1.6"/>
<polygon points="720.00,1860.50 714.80,1862.05 714.80,1858.95" fill="#2b2b2b"/>
<circle cx="666.8" cy="1860.5" r="0.9" fill="#2b2b2b"/>
</svg>
</body></html>
